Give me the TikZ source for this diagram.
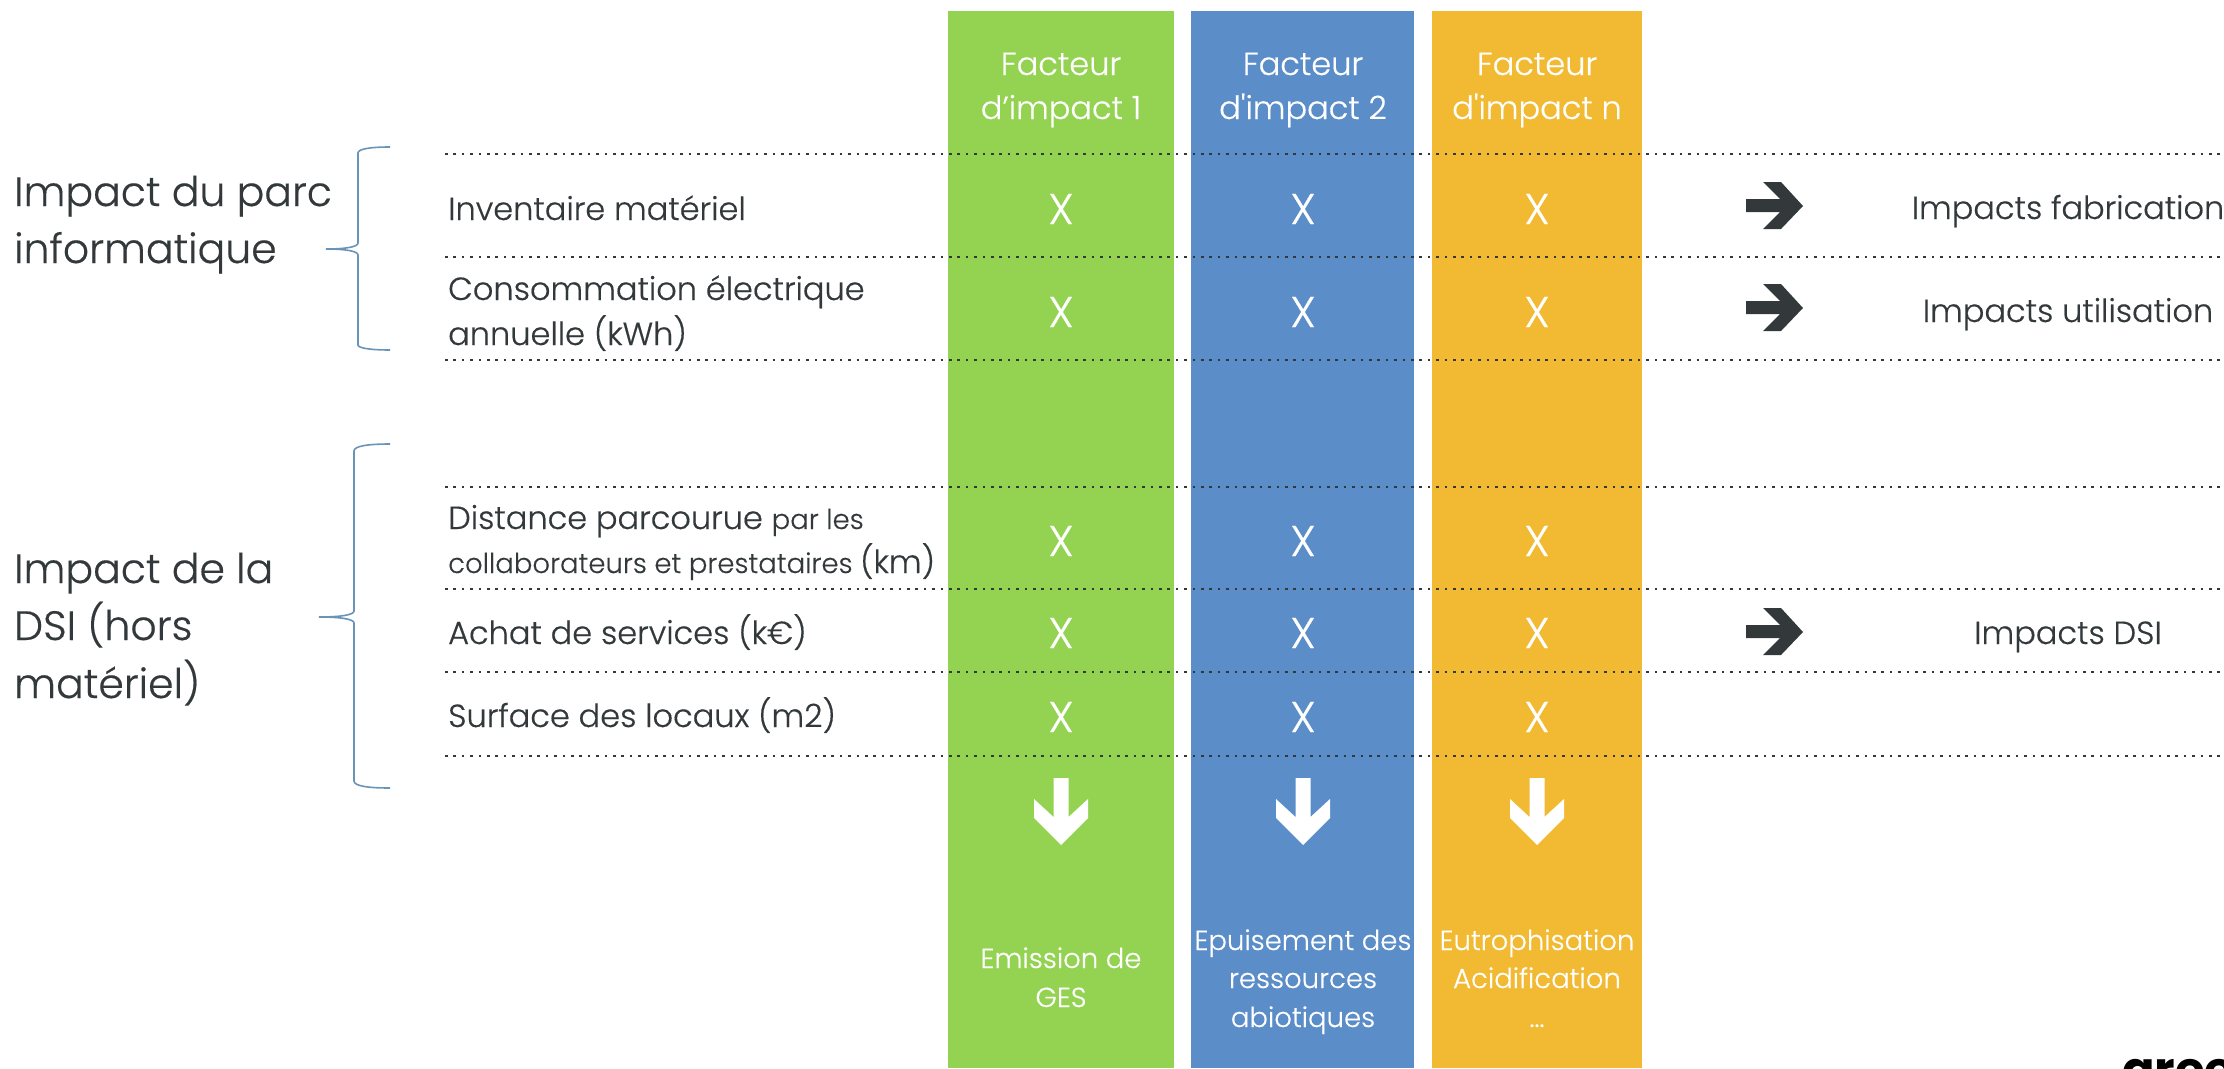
\documentclass[tikz,border=0pt]{standalone}
\usepackage{fontspec}
\setmainfont{Poppins}[UprightFont=* Light,UprightFeatures={FakeBold=0.4},BoldFont=* Bold]
\newfontfamily\plainf{Poppins}[UprightFont=* Light,UprightFeatures={FakeBold=0.4}]
\definecolor{ink}{HTML}{33393B}
\definecolor{gr}{HTML}{93D351}
\definecolor{bl}{HTML}{5B8DC8}
\definecolor{or}{HTML}{F2BA33}
\definecolor{br}{HTML}{6A93B8}
\tikzset{
  x=1pt,y=-1pt,
  col/.style={fill=#1,draw=none},
  dots/.style={ink,line width=2.6pt,dash pattern=on 2.6pt off 5.8pt},
  brc/.style={br,line width=1.6pt},
  t/.style={anchor=base west,inner sep=0pt,text=ink},
  tc/.style={anchor=base,inner sep=0pt,text=ink},
  w/.style={anchor=base,inner sep=0pt,text=white},
}
\newcommand{\fbig}{\fontsize{41}{41}\selectfont}
\newcommand{\fmid}{\fontsize{32}{32}\selectfont}
\newcommand{\fsml}{\fontsize{27.5}{27.5}\selectfont}
\newcommand{\fhd}{\fontsize{32}{32}\selectfont}
\newcommand{\fxx}{\fontsize{43}{43}\selectfont}
\begin{document}
\begin{tikzpicture}
\useasboundingbox (0,0) rectangle (2224,1068);
\fill[col=gr] (948,11) rectangle (1174,1068);
\fill[col=bl] (1191,11) rectangle (1414,1068);
\fill[col=or] (1432,11) rectangle (1642,1068);
\foreach \y in {154,257,360,487,589,672,756}
  \draw[dots] (445,\y) -- (2224,\y);
\draw[brc] (390,147) .. controls (370,147) and (358,149) .. (358,153) -- (358,243) .. controls (358,247) and (345,249) .. (326,249) .. controls (345,249) and (358,251) .. (358,255) -- (358,345) .. controls (358,348) and (370,350) .. (390,350);
\draw[brc] (390,444) .. controls (368,444) and (354,446) .. (354,451) -- (354,611) .. controls (354,615) and (340,617) .. (319,617) .. controls (340,617) and (354,619) .. (354,623) -- (354,781) .. controls (354,786) and (368,788) .. (390,788);
\node[t,font=\fbig] (a1) at (14,206) {Impact du parc};
\node[t,font=\fbig] (a2) at (14,263) {informatique};
\node[t,font=\fbig] (b1) at (14,583) {Impact de la};
\node[t,font=\fbig] (b2) at (14,640) {DSI (hors};
\node[t,font=\fbig] (b3) at (14,698) {matériel)};
\node[t,font=\fmid] (r1) at (448,220) {Inventaire matériel};
\node[t,font=\fmid] (r2) at (448,300) {Consommation électrique};
\node[t,font=\fmid] (r2b) at (448,345) {annuelle (kWh)};
\node[t,font=\fmid] (r3) at (448,529) {Distance parcourue {\fsml par les}};
\node[t,font=\fsml] (r3b) at (448,573) {collaborateurs et prestataires {\fmid (km)}};
\node[t,font=\fmid] (r4) at (448,644) {Achat de services (k€)};
\node[t,font=\fmid] (r5) at (448,727) {Surface des locaux (m2)};
\node[w,font=\fhd] (h11) at (1061,75) {Facteur};
\node[w,font=\fhd] (h12) at (1061,119) {d’impact 1};
\node[w,font=\fhd] (h21) at (1303,75) {Facteur};
\node[w,font=\fhd\plainf] (h22) at (1303,119) {d'impact 2};
\node[w,font=\fhd] (h31) at (1537,75) {Facteur};
\node[w,font=\fhd\plainf] (h32) at (1537,119) {d'impact n};
\foreach \c/\n in {1061/a,1303/b,1537/c}{
  \foreach \y/\m in {224/1,327/2,556/3,648/4,732/5}
    \node[w,font=\fxx] (x\n\m) at (\c,\y) {X};
  \fill[white] (\c-27,799) -- (\c-27,818) -- (\c,845) -- (\c+27,818) -- (\c+27,799) -- (\c+7.5,817) -- (\c+7.5,778) -- (\c-7.5,778) -- (\c-7.5,817) -- cycle;
}
\foreach \y in {206,308,632}
  \fill[ink] (1746,\y-7) -- (1780,\y-7) -- (1763,\y-24) -- (1781,\y-24) -- (1803,\y) -- (1781,\y+23) -- (1763,\y+23) -- (1780,\y+6) -- (1746,\y+6) -- cycle;
\node[tc,font=\fmid] (i1) at (2068,219) {Impacts fabrication};
\node[tc,font=\fmid] (i2) at (2068,322) {Impacts utilisation};
\node[tc,font=\fmid] (i3) at (2068,644) {Impacts DSI};
\node[w,font=\fsml] (e1) at (1061,968) {Emission de};
\node[w,font=\fsml] (e2) at (1061,1007) {GES};
\node[w,font=\fsml] (f1) at (1303,950) {Epuisement des};
\node[w,font=\fsml] (f2) at (1303,988) {ressources};
\node[w,font=\fsml] (f3) at (1303,1027) {abiotiques};
\node[w,font=\fsml] (g1) at (1537,950) {Eutrophisation};
\node[w,font=\fsml] (g2) at (1537,988) {Acidification};
\node[w,font=\fsml] (g3) at (1537,1027) {...};
\node[anchor=base west,inner sep=0pt,font=\fontsize{48}{48}\selectfont\bfseries] (logo) at (2122,1086) {gree};
\end{tikzpicture}
\end{document}
